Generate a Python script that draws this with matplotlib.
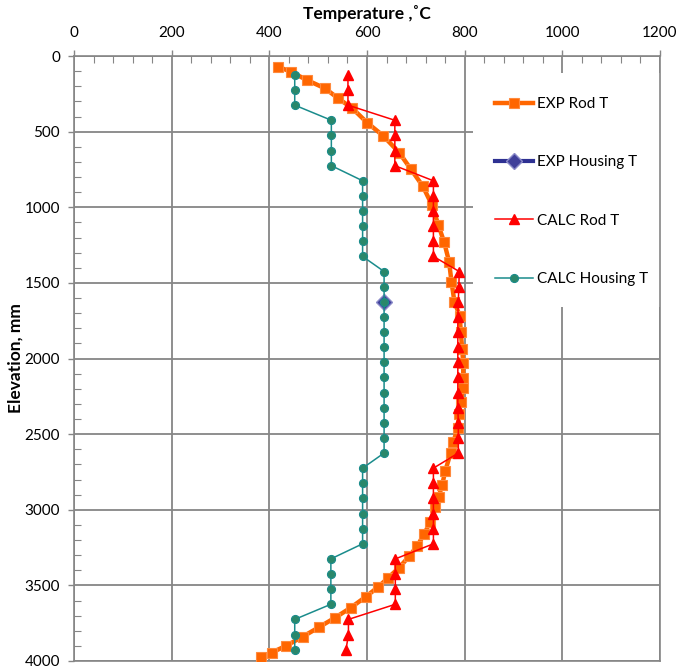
import matplotlib
matplotlib.use("Agg")
import matplotlib.pyplot as plt
from matplotlib.patches import Rectangle
from matplotlib.ticker import MultipleLocator

plt.rcParams['font.family'] = ['Lato', 'DejaVu Sans']

# Measured rod temperature profile
exp_rod_elev = [71, 104, 159, 214, 280, 346, 440, 527, 639, 749,
                859, 985, 1117, 1231, 1359, 1492, 1624, 1720, 1822, 1940,
                2031, 2132, 2197, 2285, 2370, 2460, 2549, 2626, 2747, 2835,
                2913, 2985, 3084, 3161, 3239, 3309, 3382, 3448, 3510, 3574,
                3647, 3713, 3776, 3840, 3900, 3944, 3974]
exp_rod_temp = [418, 444, 477, 514, 541, 570, 600, 633, 666, 690,
                714, 733, 746, 758, 768, 773, 779, 790, 792, 795,
                797, 797, 797, 792, 788, 786, 777, 771, 760, 754,
                747, 739, 729, 717, 703, 686, 666, 644, 623, 598,
                567, 535, 502, 468, 434, 405, 383]

# Measured housing temperature (single thermocouple)
exp_housing_elev = [1624]
exp_housing_temp = [635]

# Calculated node elevations shared by both model series
calc_elev = [125, 225, 325, 425, 525, 625, 725, 825, 925, 1025,
             1125, 1225, 1325, 1425, 1525, 1625, 1725, 1825, 1925, 2025,
             2125, 2225, 2325, 2425, 2525, 2625, 2725, 2825, 2925, 3025,
             3125, 3225, 3325, 3425, 3525, 3625, 3725, 3825, 3925]
calc_rod_temp = [561, 561, 561, 657, 657, 657, 657, 736, 736, 736,
                 736, 736, 736, 789, 788, 787, 786, 786, 786, 786,
                 786, 786, 786, 787, 787, 787, 736, 736, 736, 736,
                 736, 736, 658, 658, 658, 658, 562, 562, 557]
calc_housing_temp = [452, 452, 452, 527, 527, 527, 527, 591, 591, 591,
                     591, 591, 591, 635, 635, 635, 635, 635, 635, 635,
                     635, 635, 635, 635, 635, 635, 591, 591, 591, 591,
                     591, 591, 526, 526, 526, 526, 452, 452, 452]

x_ticks = [0, 200, 400, 600, 800, 1000, 1200]
y_ticks = [0, 500, 1000, 1500, 2000, 2500, 3000, 3500, 4000]

W, H = 678, 669
fig = plt.figure(figsize=(W / 100, H / 100), dpi=100)
L, R, T, B = 74, 660, 56, 661
ax = fig.add_axes([L / W, 1 - B / H, (R - L) / W, (B - T) / H])

grid_c = '#868686'
ax.set_xlim(0, 1200)
ax.set_ylim(4000, 0)
ax.xaxis.tick_top()
ax.xaxis.set_label_position('top')
ax.set_xticks(x_ticks)
ax.set_yticks(y_ticks)
ax.xaxis.set_minor_locator(MultipleLocator(40))
ax.yaxis.set_minor_locator(MultipleLocator(100))
ax.set_axisbelow(True)
ax.grid(True, which='major', color=grid_c, linewidth=1.3)
ax.tick_params(which='major', direction='out', length=4, width=1, color=grid_c,
               labelsize=11, labelcolor='black')
ax.tick_params(axis='x', which='major', pad=7.5)
ax.tick_params(axis='y', which='major', pad=6)
ax.tick_params(which='minor', direction='in', length=5, width=0.8, color=grid_c)
for s in ax.spines.values():
    s.set_color(grid_c)
    s.set_linewidth(1.2)

ax.set_xlabel('Temperature ,˚C', fontsize=12.5, fontweight='bold', labelpad=5)
ax.set_ylabel('Elevation, mm', fontsize=12.5, fontweight='bold', labelpad=0.5)

# White backing behind the legend
ax.add_patch(Rectangle((0.681, 0.585), 0.319, 0.387, transform=ax.transAxes,
                       facecolor='white', edgecolor='none', zorder=1))

h1, = ax.plot(exp_rod_temp, exp_rod_elev, color='#FF6600', linewidth=3.2,
              marker='s', markersize=7, markerfacecolor='#FF6600',
              markeredgecolor='#FF8A3D', markeredgewidth=0.8, zorder=3,
              label='EXP Rod T')
h2, = ax.plot(exp_housing_temp, exp_housing_elev, color='#2E3192', linewidth=3.0,
              marker='D', markersize=8.5, markerfacecolor='#3F3F9A',
              markeredgecolor='#8A8AC8', markeredgewidth=1.0, zorder=4,
              label='EXP Housing T')
h3, = ax.plot(calc_rod_temp, calc_elev, color='#FF0000', linewidth=1.1,
              marker='^', markersize=7.5, markerfacecolor='#FF0000',
              markeredgecolor='#FF0000', zorder=5, label='CALC Rod T')
h4, = ax.plot(calc_housing_temp, calc_elev, color='#1A8C8C', linewidth=1.1,
              marker='o', markersize=5.8, markerfacecolor='#2A876A',
              markeredgecolor='#1A8C8C', markeredgewidth=0.8, zorder=6,
              label='CALC Housing T')

ax.legend(handles=[h1, h2, h3, h4], loc='upper left',
          bbox_to_anchor=((495 - L) / (R - L), (B - 97) / (B - T)),
          frameon=False, fontsize=11, borderpad=0, borderaxespad=0,
          labelspacing=2.9, handlelength=2.5, handletextpad=0.25)

fig.savefig('out.png', dpi=100)
